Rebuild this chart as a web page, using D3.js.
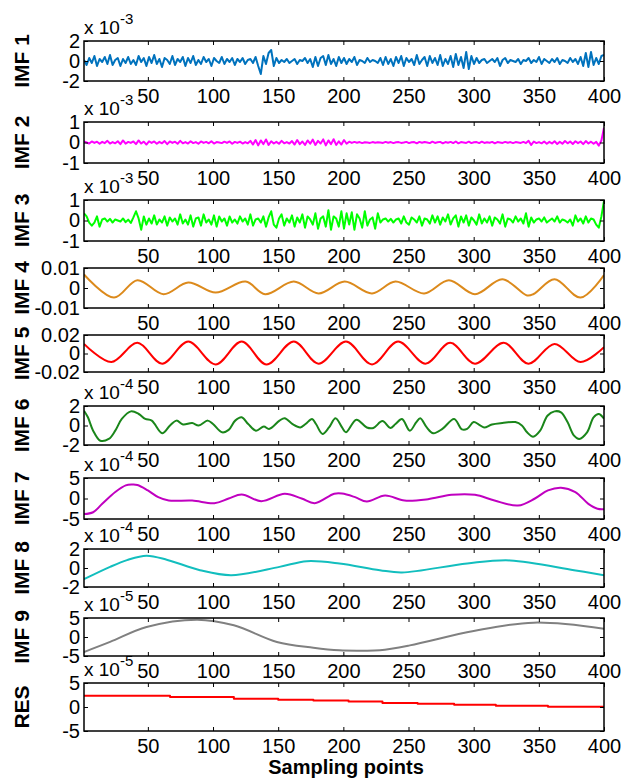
<!DOCTYPE html>
<html>
<head>
<meta charset="utf-8">
<script src="https://cdn.jsdelivr.net/npm/d3@7"></script>
<style>
  html, body { margin: 0; padding: 0; background: #fff; }
  svg { display: block; font-family: "Liberation Sans", Arial, sans-serif; }
</style>
</head>
<body>
<svg id="chart" width="623" height="778"></svg>
<script>
// ---- categories / labels ----
const xTicks = [50, 100, 150, 200, 250, 300, 350, 400];
const panelLabels = ["IMF 1", "IMF 2", "IMF 3", "IMF 4", "IMF 5", "IMF 6", "IMF 7", "IMF 8", "IMF 9", "RES"];
const panelColors = ["#0072BD", "#FF00FF", "#00FF00", "#DC8A1C", "#FF0000", "#1A861A", "#C000C0", "#12BEBE", "#808080", "#FF0000"];
const yLimits = [2, 1, 1, 0.01, 0.02, 2, 5, 2, 5, 5];
const yTickText = [
  ["-2", "0", "2"], ["-1", "0", "1"], ["-1", "0", "1"], ["-0.01", "0", "0.01"], ["-0.02", "0", "0.02"],
  ["-2", "0", "2"], ["-5", "0", "5"], ["-2", "0", "2"], ["-5", "0", "5"], ["-5", "0", "5"]
];
const axisExponents = [-3, -3, -3, null, null, -4, -4, -4, -5, -5];

// ---- high-frequency modes (every other sample, in axis units) ----
const imf1Values = [
  0.1,-0.4,0.3,-0.2,0.5,-0.5,0.2,-0.1,0.4,-0.3,0.6,-0.4,0.1,0.3,-0.5,0.2,-0.2,0.4,-0.3,0.1,
  -0.4,0.5,-0.1,0.3,-0.5,0.4,-0.2,0.6,-0.3,0.2,-0.6,0.3,0.1,-0.3,0.5,-0.4,0.2,-0.1,0.4,-0.5,
  0.3,-0.2,0.5,-0.4,0.1,-0.3,0.4,-0.1,0.2,-0.5,0.3,0.0,-0.2,0.4,-0.3,0.2,-0.1,0.3,-0.4,0.2,
  -0.1,0.3,-0.3,0.1,0.2,-0.2,0.4,-0.5,-1.3,0.5,-0.3,0.8,1.1,-0.5,0.3,-0.2,0.1,-0.1,0.2,-0.2,
  0.0,0.2,-0.3,0.1,0.0,0.3,-0.2,0.2,-0.6,0.4,-0.5,0.3,0.5,-0.4,0.6,-0.3,0.2,-0.5,0.4,-0.2,
  0.3,-0.3,0.2,-0.1,0.4,-0.4,0.1,0.0,-0.2,0.3,-0.1,0.1,0.0,-0.2,0.3,-0.4,0.4,-0.3,0.2,-0.5,
  0.4,-0.2,0.5,-0.5,0.3,-0.1,0.2,-0.4,0.6,-0.3,0.1,0.4,-0.5,0.5,-0.2,0.3,-0.4,0.6,-0.5,0.2,
  -0.3,0.5,-0.6,0.7,-0.4,0.4,-0.7,0.9,-0.8,0.5,-0.3,0.3,-0.2,0.1,0.2,-0.2,0.0,0.2,-0.1,0.3,
  -0.5,0.1,0.3,-0.2,0.1,0.0,-0.1,0.2,-0.3,0.1,0.0,0.3,-0.2,0.1,-0.1,0.4,-0.3,0.2,0.0,-0.2,
  0.2,-0.1,0.3,-0.3,0.1,0.0,-0.2,0.3,-0.1,0.2,-0.3,0.4,-0.5,0.8,-0.6,0.9,-0.4,0.3,-0.3,0.5,0.6
];
const imf2Values = [
  0.05,0.0,-0.05,0.05,-0.02,0.04,-0.06,0.03,-0.03,0.08,-0.05,0.02,-0.04,0.06,-0.08,0.1,-0.06,0.03,-0.02,0.05,
  -0.08,0.1,-0.05,0.04,-0.1,0.06,-0.02,0.05,-0.06,0.03,-0.04,0.07,-0.08,0.05,-0.02,0.04,-0.06,0.08,-0.04,0.02,
  -0.05,0.06,-0.03,0.02,-0.06,0.05,-0.02,0.03,-0.04,0.06,-0.05,0.02,0.0,-0.03,0.04,-0.02,0.05,-0.06,0.03,-0.02,
  0.04,-0.05,0.02,-0.04,0.08,-0.1,0.12,-0.14,0.1,-0.08,0.15,-0.12,0.06,-0.05,0.03,-0.06,0.08,-0.04,0.02,-0.05,
  0.07,-0.1,0.12,-0.08,0.05,-0.12,0.1,-0.06,0.14,-0.12,0.08,-0.05,0.15,-0.14,0.1,-0.08,0.16,-0.12,0.06,-0.1,
  0.12,-0.06,0.04,-0.02,0.03,-0.01,0.02,-0.03,0.01,0.0,-0.02,0.02,-0.01,0.01,0.0,-0.02,0.03,-0.01,0.02,-0.03,
  0.01,0.02,-0.02,0.0,0.03,-0.03,0.01,0.02,-0.04,0.03,-0.01,0.02,0.0,-0.03,0.04,-0.02,0.01,0.03,-0.04,0.02,
  -0.01,0.03,-0.03,0.05,-0.04,0.02,0.0,-0.02,0.04,-0.03,0.01,0.02,-0.03,0.04,-0.02,0.01,-0.01,0.03,-0.04,0.02,
  0.0,-0.02,0.03,-0.01,0.02,-0.03,0.02,0.0,-0.02,0.03,-0.03,0.08,-0.12,0.05,-0.03,0.02,-0.04,0.05,-0.06,0.03,
  -0.05,0.06,-0.07,0.04,-0.06,0.07,-0.04,0.05,-0.07,0.06,-0.03,0.05,-0.08,0.07,-0.05,0.04,-0.06,0.03,-0.15,0.1,0.72
];
const imf3Values = [
  0.35,0.2,-0.1,-0.25,-0.1,0.2,-0.3,0.05,0.1,-0.05,0.08,-0.1,0.05,0.0,-0.05,0.1,-0.08,0.04,-0.12,0.15,
  0.45,0.1,-0.45,0.2,-0.2,0.1,-0.15,0.25,-0.2,0.05,-0.1,0.2,-0.25,0.15,-0.05,0.1,-0.2,0.3,-0.15,0.05,
  -0.2,0.25,-0.3,0.1,0.15,-0.25,0.3,-0.1,0.05,-0.2,0.25,-0.3,0.2,-0.05,0.1,-0.25,0.2,-0.1,0.05,-0.15,
  0.2,-0.05,0.1,-0.2,0.3,-0.25,0.05,0.1,-0.1,0.2,-0.3,0.15,0.45,-0.2,-0.35,0.1,0.3,-0.25,0.1,-0.1,
  0.25,-0.3,0.15,-0.1,0.3,-0.35,0.2,0.05,-0.2,0.35,-0.4,0.1,0.2,-0.3,0.5,-0.45,0.2,0.1,-0.3,0.45,
  -0.4,0.35,-0.2,0.4,-0.45,0.3,0.1,-0.35,0.45,-0.25,0.05,0.15,-0.4,0.35,-0.1,0.05,0.1,-0.05,0.08,-0.1,
  0.05,0.1,-0.15,0.2,-0.1,-0.2,0.15,0.05,-0.1,0.2,-0.25,0.1,0.05,-0.15,0.25,-0.1,0.2,-0.2,0.15,-0.05,
  0.3,-0.2,0.1,0.25,-0.3,0.2,-0.1,0.25,-0.25,0.15,0.0,-0.2,0.3,-0.15,0.1,-0.1,0.2,-0.25,0.15,0.05,
  -0.15,0.3,-0.3,0.1,0.05,-0.1,0.2,-0.05,0.1,-0.15,0.35,-0.3,0.15,-0.1,0.05,0.1,-0.05,0.15,-0.1,0.0,
  0.1,-0.05,0.2,-0.1,0.05,0.0,-0.1,0.05,-0.25,0.25,-0.05,0.1,-0.15,0.2,-0.1,0.1,0.05,-0.2,-0.35,0.2,0.95
];

// ---- slower modes: [sample, value] at turning points ----
const imf4Points = [[1,0.0068],[24,-0.0048],[42,0.0039],[62,-0.0031],[81,0.0027],[102,-0.0023],[125,0.0032],[140,-0.0031],[162,0.0032],[181,-0.0027],[201,0.0032],[222,-0.0027],[240,0.0032],[262,-0.0027],[281,0.0039],[301,-0.0031],[322,0.0044],[341,-0.0037],[346,-0.003],[362,0.0044],[382,-0.0048],[400,0.0065]];
const imf5Points = [[1,0.0104],[22,-0.0092],[42,0.0115],[61,-0.011],[81,0.0129],[102,-0.0118],[122,0.0129],[141,-0.0118],[162,0.0129],[181,-0.011],[202,0.0129],[222,-0.0118],[242,0.0129],[263,-0.011],[282,0.0115],[301,-0.011],[323,0.0115],[342,-0.011],[362,0.0104],[382,-0.0092],[400,0.0069]];
const imf6Points = [[1,1.52],[4,0.84],[8,-0.53],[13.5,-1.56],[20,-1.38],[25,-0.53],[30,0.67],[37,1.45],[43,1.18],[48,0.67],[53,0.5],[61,-0.8],[67,0],[72,0.5],[77,0.1],[84,0.25],[89,0],[96,0.5],[100,0.15],[107,-0.7],[112,-0.45],[117,0.5],[122,0.84],[127,0.15],[133,-0.53],[139,-0.1],[143,-0.35],[151,0.5],[155,0.75],[161,0.15],[167,-0.2],[171,0.15],[176,0.67],[179,0.15],[184,-0.87],[189,-0.2],[194,0.75],[199,-0.2],[202,-0.7],[210,0.6],[218,-0.2],[223,-0.25],[230,0.45],[236,-0.25],[240,0.15],[245,0.67],[251,-0.53],[256,0.35],[259,0.75],[264,-0.2],[269,-0.8],[276,-0.35],[285,0.67],[291,-0.4],[295,-0.35],[300,0.35],[304,0.1],[308,-0.2],[314,0.1],[322,0.25],[332,0.35],[337,0],[341,-0.7],[345.6,-1.15],[351,-0.53],[356.6,1.0],[362,1.45],[367,1.35],[372,0.35],[377,-1.04],[381,-1.38],[387,-0.7],[392,0.84],[396,1.18],[400,0.7]];
const imf7Points = [[1,-3.8],[8,-3.35],[15,-1.3],[25,1.57],[33,3.2],[38,3.4],[42,3.3],[50,1.97],[58,0.33],[66,-0.5],[84,-0.5],[101,-1.14],[112,0],[122,0.98],[137,-0.65],[155,1.15],[168,0],[178,-1.14],[193,1.15],[199,1.2],[209,0.33],[218,-0.73],[232,0.74],[247,-0.5],[265,-0.16],[283,0.9],[301,0.9],[316,-0.5],[334,-1.72],[347,0],[357,1.97],[367,2.63],[378,1.57],[388,-1.3],[395,-2.5],[400,-2.6]];
const imf8Points = [[1,-1.18],[21,0.12],[34,0.83],[49,1.3],[65,0.85],[90,-0.23],[114,-0.76],[151,0.12],[172,0.72],[197,0.48],[228,-0.23],[245,-0.47],[295,0.48],[328,0.8],[377,-0.23],[400,-0.76]];
const imf9Points = [[1,-3.95],[21,-1.3],[49,2.63],[88,4.56],[116,3.08],[149,-1.3],[177,-2.8],[197,-3.5],[212,-3.6],[228,-3.5],[251,-2.2],[300,1.58],[346,3.78],[400,2.2]];
const resPoints = [[1,2.35],[67,2.07],[116,1.72],[150,1.5],[177,1.37],[204,1.16],[230,0.81],[257,0.67],[285,0.46],[317,0.25],[357,0.04],[400,0.04]];

// ---- build series ----
const evenSamples = vals => vals.map((v, i) => [1 + i * 399 / (vals.length - 1), v]);
const smooth = d3.curveCatmullRom.alpha(0.5);
const series = [
  { pts: evenSamples(imf1Values), curve: d3.curveLinear },
  { pts: evenSamples(imf2Values), curve: d3.curveLinear },
  { pts: evenSamples(imf3Values), curve: d3.curveLinear },
  { pts: imf4Points, curve: smooth },
  { pts: imf5Points, curve: smooth },
  { pts: imf6Points, curve: smooth },
  { pts: imf7Points, curve: smooth },
  { pts: imf8Points, curve: smooth },
  { pts: imf9Points, curve: smooth },
  { pts: resPoints, curve: d3.curveStepAfter }
];

// ---- layout ----
const plotLeft = 84, plotRight = 604;
const panelTops = [41, 122, 200, 268, 335, 406, 478, 549, 618, 683];
const panelBottoms = [81, 163, 241, 308, 372, 445, 519, 587, 656, 731];

const svg = d3.select("#chart");
const x = d3.scaleLinear().domain([1, 400]).range([plotLeft, plotRight]);
const defs = svg.append("defs");

series.forEach((s, p) => {
  const top = panelTops[p], bottom = panelBottoms[p];
  const lim = yLimits[p];
  const y = d3.scaleLinear().domain([-lim, lim]).range([bottom, top]);
  const g = svg.append("g");

  defs.append("clipPath").attr("id", "clip" + p)
    .append("rect").attr("x", plotLeft).attr("y", top)
    .attr("width", plotRight - plotLeft).attr("height", bottom - top);

  // data line
  g.append("path")
    .datum(s.pts)
    .attr("clip-path", `url(#clip${p})`)
    .attr("fill", "none")
    .attr("stroke", panelColors[p])
    .attr("stroke-width", 2)
    .attr("stroke-linejoin", "round")
    .attr("d", d3.line().x(d => x(d[0])).y(d => y(d[1])).curve(s.curve));

  // axes, ticks pointing inward
  g.append("g").attr("transform", `translate(0,${bottom})`)
    .call(d3.axisBottom(x).tickValues(xTicks).tickSizeInner(-4).tickSizeOuter(0).tickPadding(8));
  g.append("g").attr("transform", `translate(0,${top})`)
    .call(d3.axisTop(x).tickValues(xTicks).tickSizeInner(-4).tickSizeOuter(0).tickFormat(""));
  g.append("g").attr("transform", `translate(${plotLeft},0)`)
    .call(d3.axisLeft(y).tickValues([-lim, 0, lim]).tickSizeInner(-4).tickSizeOuter(0).tickPadding(4)
      .tickFormat((d, i) => yTickText[p][i]));
  g.append("g").attr("transform", `translate(${plotRight},0)`)
    .call(d3.axisRight(y).tickValues([-lim, 0, lim]).tickSizeInner(-4).tickSizeOuter(0).tickFormat(""));

  g.selectAll(".domain").remove();
  g.selectAll(".tick line").attr("stroke", "#000").attr("stroke-width", 1);
  g.selectAll(".tick text").attr("fill", "#000").style("font-size", "20px")
    .style("font-family", '"Liberation Sans", Arial, sans-serif');

  // frame
  g.append("rect")
    .attr("x", plotLeft).attr("y", top)
    .attr("width", plotRight - plotLeft).attr("height", bottom - top)
    .attr("fill", "none").attr("stroke", "#000").attr("stroke-width", 1.5);

  // exponent multiplier
  if (axisExponents[p] !== null) {
    const t = g.append("text").attr("x", plotLeft).attr("y", top - 7)
      .attr("fill", "#000").style("font-size", "19px");
    t.append("tspan").text("x 10");
    t.append("tspan").attr("dy", -10).style("font-size", "15px").text(String(axisExponents[p]));
  }

  // panel label
  g.append("text")
    .attr("transform", `translate(29,${(top + bottom) / 2}) rotate(-90)`)
    .attr("text-anchor", "middle")
    .attr("fill", "#000")
    .style("font-size", "21px").style("font-weight", "bold")
    .text(panelLabels[p]);
});

svg.append("text")
  .attr("x", 346).attr("y", 774)
  .attr("text-anchor", "middle")
  .attr("fill", "#000")
  .style("font-size", "20px").style("font-weight", "bold")
  .text("Sampling points");
</script>
</body>
</html>
